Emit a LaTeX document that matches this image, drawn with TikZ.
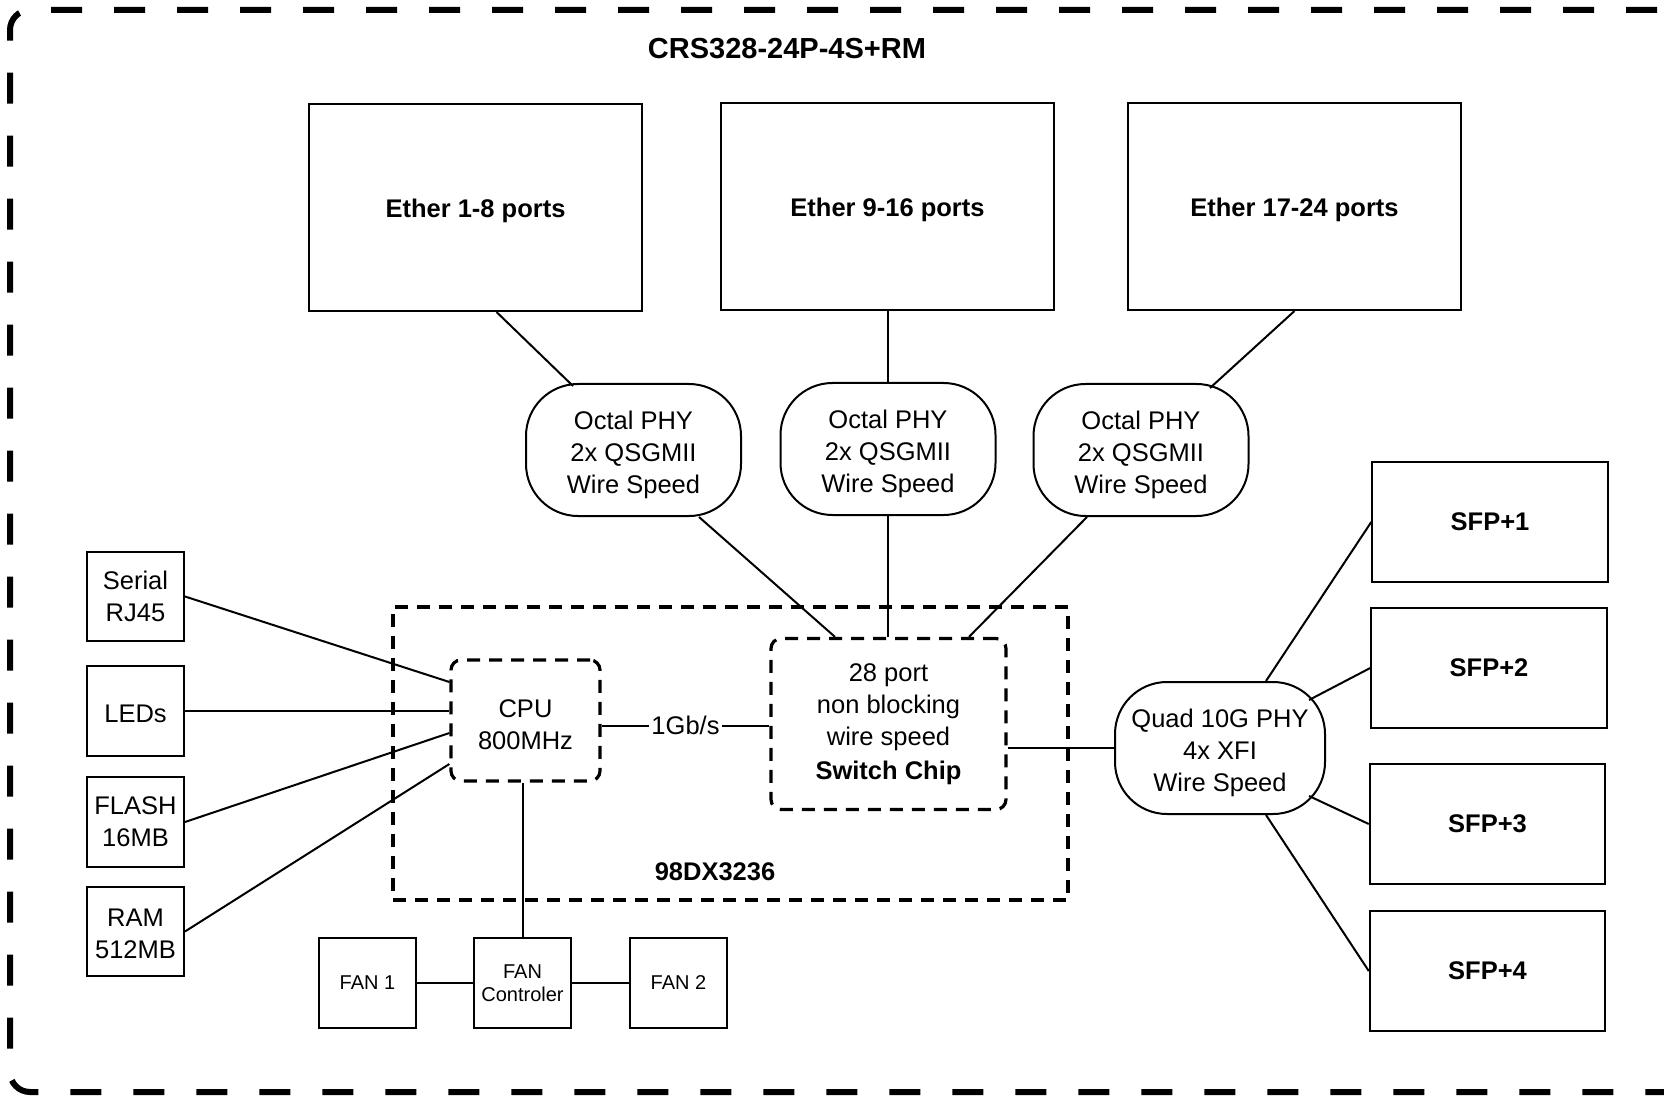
\documentclass[tikz,border=0pt]{standalone}
\usepackage{fontspec}
\setmainfont{Liberation Sans}
\usetikzlibrary{calc}
\newcommand\topstrut[1]{\rule{0pt}{#1}}
\begin{document}
\begin{tikzpicture}[x=0.5pt,y=-0.5pt,
  mainfont/.style={font=\fontsize{12.75}{16}\selectfont},
  box/.style={draw, line width=1pt, align=center, inner sep=0pt, mainfont},
  bigbox/.style={box, minimum width=166.5pt, minimum height=103.5pt, font=\fontsize{12.75}{16}\selectfont\bfseries},
  phy/.style={box, minimum width=107.5pt, minimum height=66pt, rounded corners=26pt},
  sidebox/.style={box, minimum width=48.5pt, minimum height=44.75pt},
  fanbox/.style={box, minimum width=48.5pt, minimum height=45pt, font=\fontsize{10}{11.5}\selectfont},
  sfpbox/.style={box, minimum width=117.75pt, minimum height=60pt, font=\fontsize{12.75}{16}\selectfont\bfseries},
  dbox/.style={draw, line width=1.6pt, dash pattern=on 6.5pt off 4.5pt, align=center, inner sep=0pt, mainfont},
  conn/.style={line width=1pt},
  outer/.style={line width=3pt, dash pattern=on 15.5pt off 16pt, rounded corners=10pt}
]
\useasboundingbox (0,0) rectangle (1664,1096);
\draw[outer] (1720,10) -- (10,10) -- (10,1092) -- (1720,1092);

\node[font=\fontsize{14.5}{17}\selectfont\bfseries] (title) at (787,49) {CRS328-24P-4S+RM};

% Ether boxes
\node[bigbox] (e1) at (475.5,207.5) {\topstrut{13pt}Ether 1-8 ports};
\node[bigbox] (e2) at (887.5,206.5) {\topstrut{13pt}Ether 9-16 ports};
\node[bigbox] (e3) at (1294.5,206.5) {\topstrut{13pt}Ether 17-24 ports};

% PHYs
\node[phy] (p1) at (633.5,450) {\topstrut{14.3pt}Octal PHY\\2x QSGMII\\Wire Speed};
\node[phy] (p2) at (888,449) {\topstrut{14.3pt}Octal PHY\\2x QSGMII\\Wire Speed};
\node[phy] (p3) at (1141,450) {\topstrut{14.3pt}Octal PHY\\2x QSGMII\\Wire Speed};

% 98DX box
\node[dbox, minimum width=337.5pt, minimum height=146.5pt] (soc) at (730.5,753.5) {};
\node[font=\fontsize{12.75}{16}\selectfont\bfseries] (soclabel) at (715,872) {98DX3236};

% chip and CPU
\node[dbox, rounded corners=5pt, minimum width=117.5pt, minimum height=85.5pt] (chip) at (888.5,724)
  {28 port\\non blocking\\wire speed\\[1pt]\textbf{Switch Chip}};
\node[dbox, rounded corners=5pt, minimum width=74.5pt, minimum height=60.5pt] (cpu) at (525.5,720.5)
  {\topstrut{13.3pt}CPU\\800MHz};

% left boxes
\node[sidebox] (serial) at (135.5,596.5) {Serial\\RJ45};
\node[sidebox] (leds) at (135.5,711) {\topstrut{12pt}LEDs};
\node[sidebox] (flash) at (135.5,822) {FLASH\\16MB};
\node[sidebox] (ram) at (135.5,931.5) {\topstrut{11pt}RAM\\512MB};

% fans
\node[fanbox] (fan1) at (367.5,983) {FAN 1};
\node[fanbox] (fanc) at (522.5,983) {FAN\\Controler};
\node[fanbox] (fan2) at (678.5,983) {FAN 2};

% quad phy and SFP
\node[phy, minimum width=105pt] (quad) at (1220,748) {\topstrut{14pt}Quad 10G PHY\\4x XFI\\Wire Speed};
\node[sfpbox] (s1) at (1490,522) {SFP+1};
\node[sfpbox] (s2) at (1489,668) {SFP+2};
\node[sfpbox] (s3) at (1487.5,824) {SFP+3};
\node[sfpbox] (s4) at (1487.5,971) {SFP+4};

% connectors
\draw[conn] ([xshift=10.5pt]e1.south) -- ([xshift=-30.25pt,yshift=-1.5pt]p1.north);
\draw[conn] (e2.south) -- (e2.south |- p2.north);
\draw[conn] (e3.south) -- ([xshift=34.5pt,yshift=-2.5pt]p3.north);

\draw[conn] ([xshift=32.75pt]p1.south) -- ([xshift=-26.75pt]chip.north);
\draw[conn] (p2.south) -- (p2.south |- chip.north);
\draw[conn] ([xshift=-27pt]p3.south) -- ([xshift=40.25pt]chip.north);

\draw[conn] ([yshift=-0.75pt]chip.west) -- node[fill=white, inner sep=1pt, mainfont] {1Gb/s} ([yshift=-0.75pt]chip.west -| cpu.east);
\draw[conn] (quad.west) -- (quad.west -| chip.east);

\draw[conn] (serial.east) -- ([yshift=19.25pt]cpu.west);
\draw[conn] (leds.east) -- (leds.east -| cpu.west);
\draw[conn] (flash.east) -- ([yshift=-6.25pt]cpu.west);
\draw[conn] (ram.east) -- ([yshift=-21.75pt]cpu.west);

\draw[conn] (fanc.north) -- (fanc.north |- cpu.south);
\draw[conn] (fan1.east) -- (fanc.west);
\draw[conn] (fanc.east) -- (fan2.west);

\draw[conn] ([xshift=23pt]quad.north) -- (s1.west);
\draw[conn] ([xshift=44.5pt,yshift=24pt]quad.center) -- (s2.west);
\draw[conn] ([xshift=44.5pt,yshift=-24pt]quad.center) -- (s3.west);
\draw[conn] ([xshift=23pt]quad.south) -- (s4.west);
\end{tikzpicture}
\end{document}
